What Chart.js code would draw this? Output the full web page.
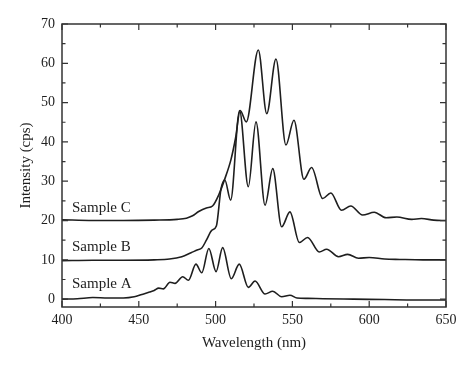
<!DOCTYPE html>
<html>
<head>
<meta charset="utf-8">
<script src="https://cdn.jsdelivr.net/npm/chart.js@4/dist/chart.umd.min.js"></script>
<style>
  html, body { margin: 0; padding: 0; background: #fff; }
  #wrap { width: 474px; height: 369px; }
</style>
</head>
<body>
<div id="wrap"><canvas id="myChart" width="474" height="369"></canvas></div>
<script>
// Emission spectra
var sampleNames = ["Sample A", "Sample B", "Sample C"];

var waveA = [400, 410, 420, 430, 440, 447, 452, 457, 460, 463, 466, 470.3, 473.6, 478.6, 482.3, 487.2, 491, 495.6, 500.3, 504.6, 510.2, 515.4, 521.3, 525.7, 532.2, 537.2, 543, 548.4, 553, 560, 570, 590, 610, 630, 650];
var sampleA = [0, 0.1, 0.4, 0.3, 0.3, 0.6, 1.2, 1.8, 2.2, 2.8, 2.6, 4.3, 4.0, 5.7, 4.8, 8.9, 6.7, 12.9, 7.0, 13.1, 5.2, 8.9, 3.0, 4.6, 1.3, 2.0, 0.6, 1.0, 0.3, 0.2, 0.1, 0, -0.1, -0.2, -0.2];

var waveB = [400, 420, 440, 460, 470, 478, 484, 488, 491, 494, 497.5, 500.5, 503.5, 506, 509.8, 515.6, 521.3, 526.3, 532.2, 537.2, 543, 548.4, 554.5, 559.9, 567.5, 572.3, 580, 586, 593, 600, 610, 620, 635, 650];
var sampleB = [9.8, 9.9, 9.9, 10.0, 10.2, 10.8, 11.8, 12.5, 13.0, 15.0, 17.5, 18.6, 28.0, 30.3, 25.2, 48.0, 28.6, 45.1, 23.9, 33.2, 18.4, 22.2, 14.4, 15.7, 12.0, 12.7, 10.8, 11.4, 10.4, 10.6, 10.2, 10.1, 10.0, 10.0];

var waveC = [400, 420, 440, 460, 475, 481, 485, 489, 494, 498, 502, 506, 510, 513, 516, 520, 527.8, 533.3, 539.3, 545.8, 551, 557.5, 562.5, 569.7, 575, 582, 588, 595.7, 603.3, 611, 618, 627.7, 634, 642, 650];
var sampleC = [20.2, 20.0, 20.0, 20.1, 20.3, 20.6, 21.2, 22.3, 23.2, 23.7, 26.5, 30.6, 35.5, 41, 48.0, 45.1, 63.4, 47.2, 61.1, 39.2, 45.5, 30.5, 33.5, 25.6, 27.0, 22.6, 23.7, 21.4, 22.1, 20.7, 20.9, 20.3, 20.5, 20.1, 20.0];

var xTicks = [400, 450, 500, 550, 600, 650];
var xMinorTicks = [425, 475, 525, 575, 625];
var yTicks = [0, 10, 20, 30, 40, 50, 60, 70];
var yMinorTicks = [5, 15, 25, 35, 45, 55, 65];

function toPoints(xs, ys) {
    return xs.map(function (x, i) { return { x: x, y: ys[i] }; });
}

var serif = "'Liberation Serif', 'DejaVu Serif', serif";
var ink = '#1e1e1e';

// frame, inward ticks and curve labels
var framePlugin = {
    id: 'frame',
    afterDraw: function (chart) {
        var ctx = chart.ctx, a = chart.chartArea;
        var xs = chart.scales.x, ys = chart.scales.y;
        ctx.save();
        ctx.strokeStyle = '#333';
        ctx.lineWidth = 1.5;
        ctx.strokeRect(a.left, a.top, a.right - a.left, a.bottom - a.top);
        ctx.lineWidth = 1.2;
        function vt(vals, len) {
            vals.forEach(function (v) {
                var px = xs.getPixelForValue(v);
                ctx.beginPath();
                ctx.moveTo(px, a.bottom); ctx.lineTo(px, a.bottom - len);
                ctx.moveTo(px, a.top); ctx.lineTo(px, a.top + len);
                ctx.stroke();
            });
        }
        function ht(vals, len) {
            vals.forEach(function (v) {
                var py = ys.getPixelForValue(v);
                ctx.beginPath();
                ctx.moveTo(a.left, py); ctx.lineTo(a.left + len, py);
                ctx.moveTo(a.right, py); ctx.lineTo(a.right - len, py);
                ctx.stroke();
            });
        }
        vt(xTicks, 6); vt(xMinorTicks, 3.5);
        ht(yTicks, 6); ht(yMinorTicks, 3.5);

        ctx.fillStyle = ink;
        ctx.font = '15px ' + serif;
        ctx.textBaseline = 'middle';
        ctx.textAlign = 'left';
        var labelY = [3.8, 13.2, 23.2];
        sampleNames.forEach(function (name, i) {
            ctx.fillText(name, xs.getPixelForValue(406.5), ys.getPixelForValue(labelY[i]));
        });
        ctx.restore();
    }
};

var ctx = document.getElementById('myChart').getContext('2d');
var lineStyle = {
    borderColor: ink,
    borderWidth: 1.6,
    pointRadius: 0,
    fill: false,
    cubicInterpolationMode: 'monotone'
};

new Chart(ctx, {
    type: 'line',
    data: {
        datasets: [
            Object.assign({ label: sampleNames[0], data: toPoints(waveA, sampleA) }, lineStyle),
            Object.assign({ label: sampleNames[1], data: toPoints(waveB, sampleB) }, lineStyle),
            Object.assign({ label: sampleNames[2], data: toPoints(waveC, sampleC) }, lineStyle)
        ]
    },
    options: {
        responsive: false,
        animation: false,
        layout: { padding: { left: 0, top: 24, right: 28, bottom: 0 } },
        plugins: { legend: { display: false }, tooltip: { enabled: false } },
        scales: {
            x: {
                type: 'linear',
                min: 400, max: 650,
                afterBuildTicks: function (s) { s.ticks = xTicks.map(function (v) { return { value: v }; }); },
                afterFit: function (s) { s.height = 62; },
                grid: { display: false, drawTicks: false },
                border: { display: false },
                ticks: { color: ink, font: { family: serif, size: 14 }, padding: 5, maxRotation: 0 },
                title: { display: true, text: 'Wavelength (nm)', color: ink, font: { family: serif, size: 15 }, padding: { top: 0, bottom: 17 } }
            },
            y: {
                min: -2, max: 70,
                afterBuildTicks: function (s) { s.ticks = yTicks.map(function (v) { return { value: v }; }); },
                afterFit: function (s) { s.width = 62; },
                grid: { display: false, drawTicks: false },
                border: { display: false },
                ticks: { color: ink, font: { family: serif, size: 14 }, padding: 7 },
                title: { display: true, text: 'Intensity (cps)', color: ink, font: { family: serif, size: 15 }, padding: { top: 17, bottom: 0 } }
            }
        }
    },
    plugins: [framePlugin]
});
</script>
</body>
</html>
